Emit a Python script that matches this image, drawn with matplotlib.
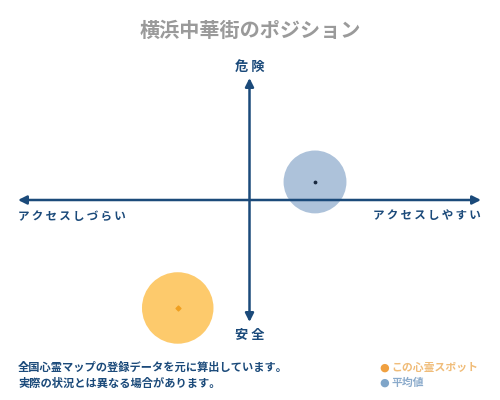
import matplotlib

matplotlib.use("Agg")
import matplotlib.pyplot as plt

plt.rcParams["font.family"] = ["Noto Sans CJK JP", "DejaVu Sans"]

title = "横浜中華街のポジション"
top_label = "危 険"
bottom_label = "安 全"
left_label = "アクセスしづらい"
right_label = "アクセスしやすい"
notes = ["全国心霊マップの登録データを元に算出しています。", "実際の状況とは異なる場合があります。"]
legend_labels = ["この心霊スポット", "平均値"]

# positions on a -1..1 scale (x: access, y: danger)
spot_x = [-0.31]
spot_y = [-0.885]
avg_x = [0.283]
avg_y = [0.148]

navy = "#1b4a7a"
spot_color = "#fdca6c"
avg_color = "#adc2da"

W, H = 500, 400
fig = plt.figure(figsize=(5, 4), dpi=100)
fig.patch.set_facecolor("white")

# plot axes spans the arrow extents
left, right, top, bottom = 18, 481, 78, 322
ax = fig.add_axes([left / W, 1 - bottom / H, (right - left) / W, (bottom - top) / H])
ax.set_xlim(-1, 1)
ax.set_ylim(-1, 1)
ax.axis("off")

arrow = dict(arrowstyle="<|-|>,head_length=0.5,head_width=0.25", color=navy, lw=1.8,
             shrinkA=0, shrinkB=0)
ax.annotate("", xy=(1, 0), xytext=(-1, 0), arrowprops=arrow, zorder=5)
ax.annotate("", xy=(0, 1), xytext=(0, -1), arrowprops=arrow, zorder=5)

ax.scatter(avg_x, avg_y, s=2050, color=avg_color, edgecolors="none", zorder=3, clip_on=False)
ax.scatter(avg_x, avg_y, s=3, color="#1a2a40", zorder=4, clip_on=False)
ax.scatter(spot_x, spot_y, s=2650, color=spot_color, edgecolors="none", zorder=3, clip_on=False)
ax.scatter(spot_x, spot_y, s=6, color="#f0a020", marker="D", zorder=4, clip_on=False)

sp = "\u2009"
fig.text(0.5, 1 - 30 / H, title, ha="center", va="center", fontsize=14.5,
         color="#9a9a9a", fontweight="bold")
fig.text(249.5 / W, 1 - 67 / H, top_label, ha="center", va="center", fontsize=9.5,
         color=navy, fontweight="bold")
fig.text(249.5 / W, 1 - 335 / H, bottom_label, ha="center", va="center", fontsize=9.5,
         color=navy, fontweight="bold")
fig.text(18 / W, 1 - 216 / H, sp.join(left_label), ha="left", va="center", fontsize=8.3,
         color=navy, fontweight="bold")
fig.text(481 / W, 1 - 216 / H, sp.join(right_label), ha="right", va="center", fontsize=8.3,
         color=navy, fontweight="bold")

for i, line in enumerate(notes):
    fig.text(18 / W, 1 - (367 + 16 * i) / H, line, ha="left", va="center", fontsize=8.1,
             color=navy, fontweight="bold")

legend_dot_colors = ["#f0a040", "#7fa5c8"]
legend_text_colors = ["#f0bc78", "#8aaacb"]
for i, (lab, dc, tc) in enumerate(zip(legend_labels, legend_dot_colors, legend_text_colors)):
    y = 1 - (368 + 15 * i) / H
    fig.text(384 / W, y, "●", ha="center", va="center", fontsize=8, color=dc,
             family=["DejaVu Sans"])
    fig.text(391 / W, y, lab, ha="left", va="center", fontsize=7.8, color=tc,
             fontweight="bold")

fig.savefig("out.png", dpi=100, facecolor="white")
